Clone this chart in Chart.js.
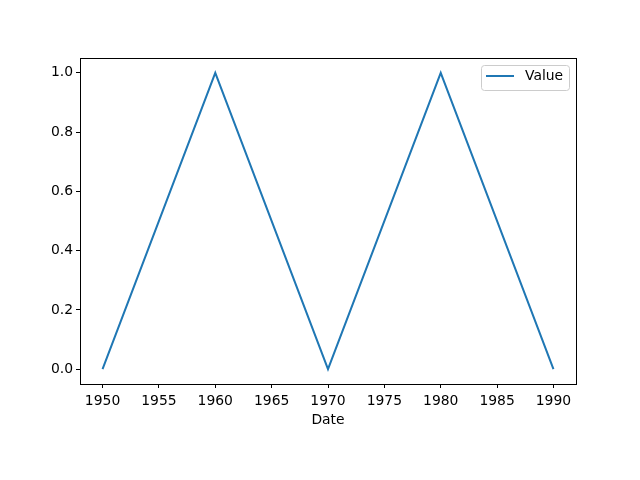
<!DOCTYPE html>
<html>
<head>
<meta charset="utf-8">
<script src="https://cdn.jsdelivr.net/npm/chart.js@4/dist/chart.umd.min.js"></script>
<style>
  html, body { margin: 0; padding: 0; background: #fff; }
  #wrap { width: 640px; height: 480px; }
</style>
</head>
<body>
<div id="wrap"><canvas id="chart" width="640" height="480"></canvas></div>
<script>
const YEARS = [1950, 1960, 1970, 1980, 1990];
const VALUES = [0, 1, 0, 1, 0];
const X_TICKS = [1950, 1955, 1960, 1965, 1970, 1975, 1980, 1985, 1990];
const Y_TICKS = [0, 0.2, 0.4, 0.6, 0.8, 1.0];

const LINE_COLOR = "#1f77b4";
const FONT = { family: "DejaVu Sans", size: 13.9 };

// top/right spines + legend box, matplotlib style
const framePlugin = {
  id: "frame",
  afterDraw(chart) {
    const { ctx, chartArea: a } = chart;
    ctx.save();
    ctx.strokeStyle = "#000";
    ctx.lineWidth = 1;
    ctx.strokeRect(a.left + 0.5, a.top + 0.5, a.right - a.left, a.bottom - a.top);

    // legend
    const bx = 481.5, by = 65.5, bw = 88, bh = 25;
    ctx.fillStyle = "rgba(255,255,255,0.8)";
    ctx.strokeStyle = "#cccccc";
    ctx.beginPath();
    ctx.roundRect(bx, by, bw, bh, 3);
    ctx.fill();
    ctx.stroke();
    ctx.strokeStyle = LINE_COLOR;
    ctx.lineWidth = 2;
    ctx.beginPath();
    ctx.moveTo(486, 76);
    ctx.lineTo(514, 76);
    ctx.stroke();
    ctx.fillStyle = "#000";
    ctx.font = FONT.size + "px " + FONT.family;
    ctx.textBaseline = "middle";
    ctx.fillText("Value", 525, 76);
    ctx.restore();
  },
};

new Chart(document.getElementById("chart"), {
  type: "line",
  data: {
    datasets: [
      {
        label: "Value",
        data: YEARS.map((y, i) => ({ x: y, y: VALUES[i] })),
        borderColor: LINE_COLOR,
        borderWidth: 2,
        pointRadius: 0,
        tension: 0,
        fill: false,
      },
    ],
  },
  options: {
    responsive: false,
    animation: false,
    layout: { padding: { left: 0, top: 58, right: 64, bottom: 47 } },
    plugins: {
      legend: { display: false },
      tooltip: { enabled: false },
    },
    scales: {
      x: {
        type: "linear",
        min: 1948,
        max: 1992,
        afterBuildTicks: (s) => { s.ticks = X_TICKS.map((v) => ({ value: v })); },
        afterFit: (s) => { s.height = 49; },
        grid: { drawOnChartArea: false, drawTicks: true, tickLength: 4, color: "#000" },
        border: { color: "#000", width: 1 },
        ticks: { color: "#000", font: FONT, padding: 5, maxRotation: 0, callback: (v) => String(v) },
        title: { display: true, text: "Date", color: "#000", font: FONT, padding: { top: 2, bottom: 4 } },
      },
      y: {
        min: -0.05,
        max: 1.05,
        afterBuildTicks: (s) => { s.ticks = Y_TICKS.map((v) => ({ value: v })); },
        afterFit: (s) => { s.width = 80; },
        grid: { drawOnChartArea: false, drawTicks: true, tickLength: 4, color: "#000" },
        border: { color: "#000", width: 1 },
        ticks: { color: "#000", font: FONT, padding: 3, callback: (v) => v.toFixed(1) },
      },
    },
  },
  plugins: [framePlugin],
});
</script>
</body>
</html>
